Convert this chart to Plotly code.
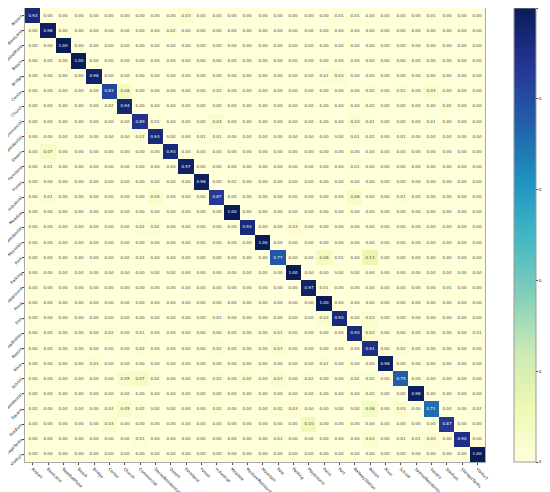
import plotly.graph_objects as go

classes = ["Airport", "BareLand", "BaseballField", "Beach", "Bridge", "Center",
           "Church", "Commercial", "DenseResidential", "Desert", "Farmland",
           "Forest", "Industrial", "Meadow", "MediumResidential", "Mountain",
           "Park", "Parking", "Playground", "Pond", "Port", "RailwayStation",
           "Resort", "River", "School", "SparseResidential", "Square",
           "Stadium", "StorageTanks", "Viaduct"]

# per-class accuracy (diagonal)
diag = [0.93, 0.98, 1.00, 1.00, 0.96, 0.83, 0.94, 0.89, 0.93, 0.93,
        0.97, 0.98, 0.87, 1.00, 0.93, 1.00, 0.77, 1.00, 0.97, 1.00,
        0.93, 0.93, 0.91, 0.98, 0.75, 0.98, 0.71, 0.87, 0.90, 1.00]

# confusions: (true row, predicted col, value)
off_rows = [0, 0, 0, 0, 1, 4, 4, 5, 5, 5, 5, 5,
            6, 6, 6, 7, 7, 7, 7, 7, 8, 8, 8, 8, 8, 8,
            9, 10, 10, 11, 12, 12, 12, 12, 14, 14, 14,
            16, 16, 16, 16, 18, 18, 20, 20, 20,
            21, 21, 21, 21, 21, 22, 22, 22, 22, 23, 23,
            24, 24, 24, 24, 24, 24, 24, 24, 24, 25,
            26, 26, 26, 26, 26, 26, 26, 26, 26, 26,
            27, 27, 28, 28, 28, 28, 28, 28]
off_cols = [10, 20, 21, 26, 9, 19, 20, 6, 12, 22, 24, 26,
            5, 22, 27, 8, 12, 21, 22, 26, 7, 11, 12, 21, 22, 24,
            1, 1, 21, 13, 1, 8, 21, 24, 7, 8, 17,
            7, 19, 20, 22, 19, 27, 12, 19, 22,
            5, 7, 16, 22, 29, 7, 12, 16, 24, 4, 19,
            6, 7, 8, 12, 14, 16, 18, 21, 22, 22,
            0, 5, 6, 7, 12, 16, 17, 22, 24, 29,
            5, 18, 7, 16, 22, 24, 25, 26]
off_vals = [0.03, 0.01, 0.01, 0.01, 0.02, 0.01, 0.03, 0.08, 0.02, 0.02, 0.01, 0.04,
            0.02, 0.02, 0.02, 0.01, 0.04, 0.03, 0.01, 0.01, 0.01, 0.01, 0.01, 0.01, 0.02, 0.01,
            0.07, 0.01, 0.01, 0.02, 0.01, 0.04, 0.06, 0.01, 0.02, 0.02, 0.03,
            0.01, 0.08, 0.01, 0.13, 0.01, 0.01, 0.01, 0.03, 0.03,
            0.02, 0.01, 0.01, 0.03, 0.01, 0.02, 0.02, 0.03, 0.02, 0.01, 0.01,
            0.05, 0.07, 0.02, 0.02, 0.02, 0.03, 0.02, 0.02, 0.02, 0.02,
            0.02, 0.02, 0.05, 0.02, 0.02, 0.02, 0.03, 0.08, 0.03, 0.02,
            0.03, 0.10, 0.01, 0.01, 0.03, 0.01, 0.01, 0.03]

n = len(classes)
z = [[0.0] * n for _ in range(n)]
for i, v in enumerate(diag):
    z[i][i] = v
for r, c, v in zip(off_rows, off_cols, off_vals):
    z[r][c] = v

heat = go.Heatmap(
    z=z,
    x=classes,
    y=classes,
    colorscale="YlGnBu",
    zmin=0, zmax=1,
    texttemplate="%{z:.2f}",
    textfont=dict(size=4, family="DejaVu Sans"),
    colorbar=dict(
        x=1.063, xanchor="left", xpad=0, y=0.5, yanchor="middle",
        ypad=0, len=1.0, lenmode="fraction", thickness=22,
        outlinecolor="#999999", outlinewidth=1,
        tickvals=[0, 0.2, 0.4, 0.6, 0.8, 1.0],
        tickformat=".1f",
        ticks="outside", ticklen=2,
        tickfont=dict(size=4, color="#222222"),
    ),
)

fig = go.Figure(data=[heat])
# the page body adds an 8px offset, so the figure is sized to fit the window
fig.update_layout(
    width=542, height=484,
    margin=dict(l=17, r=65, t=0, b=30),
    paper_bgcolor="white",
    plot_bgcolor="white",
    font=dict(family="DejaVu Sans", size=4, color="#222222"),
)
fig.update_xaxes(tickangle=45, ticks="outside", ticklen=2,
                 tickfont=dict(size=4, color="#111111"), automargin=False,
                 showline=True, linecolor="#aaaaaa", mirror=True, showgrid=False)
fig.update_yaxes(autorange="reversed", tickangle=-45, ticks="outside", ticklen=2,
                 tickfont=dict(size=4, color="#111111"), automargin=False,
                 showline=True, linecolor="#aaaaaa", mirror=True, showgrid=False)

fig.write_html("out.html")
